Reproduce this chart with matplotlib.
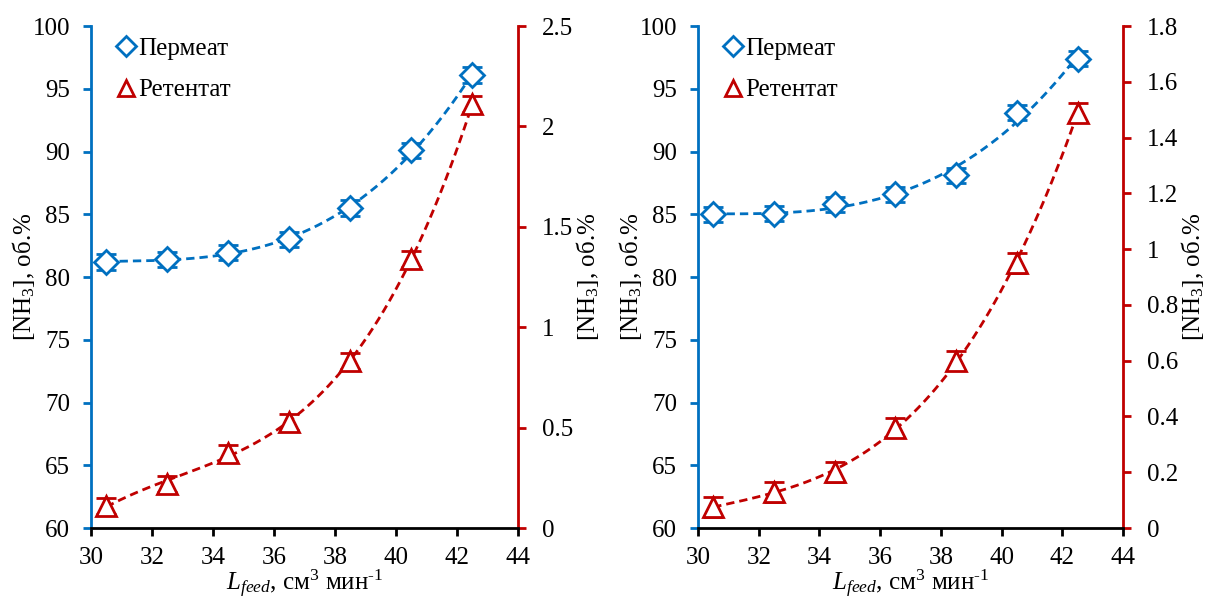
import numpy as np
import matplotlib
matplotlib.use('Agg')
import matplotlib.pyplot as plt
from matplotlib.lines import Line2D
from matplotlib.ticker import FuncFormatter

plt.rcParams['font.family'] = ['Liberation Serif', 'DejaVu Serif']
plt.rcParams['mathtext.fontset'] = 'custom'
plt.rcParams['mathtext.rm'] = 'Liberation Serif'
plt.rcParams['mathtext.it'] = 'Liberation Serif:italic'
plt.rcParams['font.size'] = 18

BLUE = '#0070C0'
RED = '#C00000'

L_feed = [30.5, 32.5, 34.5, 36.5, 38.5, 40.5, 42.5]

# left panel
perm_a = [81.2, 81.4, 81.95, 83.0, 85.5, 90.1, 96.1]
perm_a_err = [0.6, 0.6, 0.6, 0.6, 0.6, 0.6, 0.6]
ret_a = [0.11, 0.22, 0.375, 0.53, 0.83, 1.34, 2.11]
ret_a_err = [0.04, 0.04, 0.04, 0.04, 0.04, 0.04, 0.04]

# right panel
perm_b = [85.0, 85.05, 85.8, 86.6, 88.1, 93.1, 97.4]
perm_b_err = [0.6, 0.6, 0.6, 0.6, 0.6, 0.6, 0.6]
ret_b = [0.075, 0.13, 0.2, 0.36, 0.6, 0.95, 1.49]
ret_b_err = [0.035, 0.035, 0.035, 0.035, 0.035, 0.035, 0.035]

ret_ticks_a = [0, 0.5, 1, 1.5, 2, 2.5]
ret_ticks_b = [0, 0.2, 0.4, 0.6, 0.8, 1, 1.2, 1.4, 1.6, 1.8]


def trend(x, y, deg=3):
    c = np.polyfit(x, y, deg)
    xs = np.linspace(min(x), max(x), 200)
    return xs, np.polyval(c, xs)


def panel(rect, perm, perm_err, ret, ret_err, ret_ticks):
    ax = fig.add_axes(rect)
    ax2 = ax.twinx()
    ax.set_zorder(ax2.get_zorder() + 1)
    ax.patch.set_visible(False)

    x = np.array(L_feed)
    xs, ys = trend(x, perm)
    ax.plot(xs, ys, '--', color=BLUE, lw=2, dashes=(3, 1.8))
    ax.errorbar(x, perm, yerr=perm_err, fmt='D', ms=12, mfc='white',
                mec=BLUE, mew=2, ecolor=BLUE, elinewidth=2, capsize=7,
                capthick=2)
    xs, ys = trend(x, ret)
    ax2.plot(xs, ys, '--', color=RED, lw=2, dashes=(3, 1.8))
    ax2.errorbar(x, ret, yerr=ret_err, fmt='^', ms=15, mfc='white',
                 mec=RED, mew=2, ecolor=RED, elinewidth=2, capsize=7,
                 capthick=2)

    ax.set_xlim(30, 44)
    ax.set_xticks(range(30, 45, 2))
    ax.set_ylim(60, 100)
    ax.set_yticks(range(60, 101, 5))
    ax2.set_ylim(ret_ticks[0], ret_ticks[-1])
    ax2.set_yticks(ret_ticks)
    ax2.yaxis.set_major_formatter(FuncFormatter(lambda v, p: '%g' % v))

    for a in (ax, ax2):
        a.spines['top'].set_visible(False)
        for s in a.spines.values():
            s.set_linewidth(2)
    ax.spines['right'].set_visible(False)
    ax.spines['left'].set_color(BLUE)
    ax2.spines['left'].set_visible(False)
    ax2.spines['right'].set_color(RED)
    ax2.spines['bottom'].set_visible(False)
    ax.tick_params(axis='y', colors=BLUE, labelcolor='black', width=2,
                   length=6, labelsize=18, pad=9)
    ax.tick_params(axis='x', width=2, length=6, labelsize=18, pad=8)
    ax2.tick_params(axis='y', colors=RED, labelcolor='black', width=2,
                    length=6, labelsize=18, pad=11)

    ax.set_xlabel('$L_{feed}$, см$^3$ мин$^{\u2010 1}$', fontsize=18,
                  labelpad=-1)
    ax.set_ylabel('[NH$_3$], об.%', fontsize=18, labelpad=-3)
    ax2.set_ylabel('[NH$_3$], об.%', fontsize=18, rotation=90, labelpad=1)

    handles = [
        Line2D([], [], ls='none', marker='D', ms=10, mfc='white', mec=BLUE,
               mew=2),
        Line2D([], [], ls='none', marker='^', ms=12, mfc='white', mec=RED,
               mew=2),
    ]
    ax.legend(handles, ['Пермеат', 'Ретентат'], loc='upper left',
              bbox_to_anchor=(0.0, 1.022), frameon=False, fontsize=18,
              handletextpad=0.0, handlelength=1.0, labelspacing=0.75)


fig = plt.figure(figsize=(12.05, 5.99), dpi=100)
panel([0.0755, 0.1185, 0.3544, 0.838], perm_a, perm_a_err, ret_a,
      ret_a_err, ret_ticks_a)
panel([0.5793, 0.1185, 0.3527, 0.838], perm_b, perm_b_err, ret_b,
      ret_b_err, ret_ticks_b)

fig.savefig('out.png', dpi=100)
